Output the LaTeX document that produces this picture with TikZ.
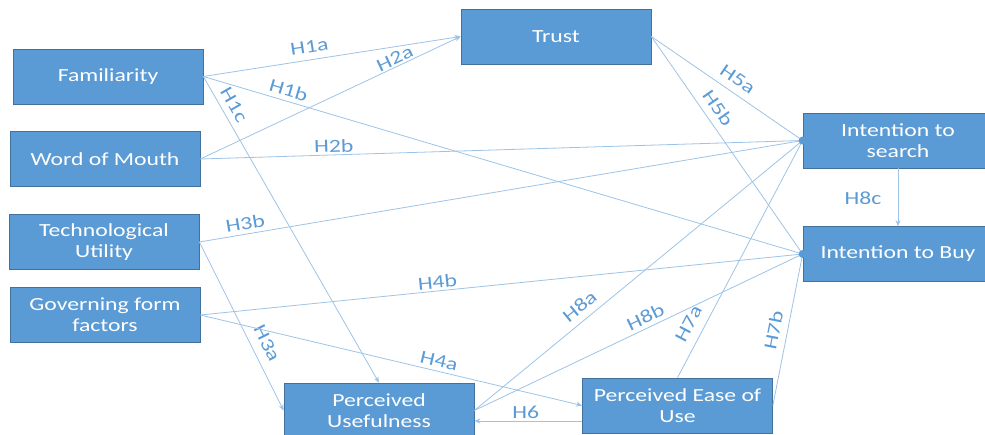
\documentclass[tikz,border=0pt]{standalone}
\usepackage{fontspec}
\setmainfont{Carlito}[FakeStretch=1.28]
\usetikzlibrary{arrows.meta,calc}
\definecolor{boxfill}{HTML}{5B9BD5}
\definecolor{boxline}{HTML}{41719C}
\definecolor{linkc}{HTML}{9DC3E6}
\definecolor{labc}{HTML}{5B9BD5}
\begin{document}
\begin{tikzpicture}[x=1pt,y=-1pt,
  box/.style={draw=boxline, line width=0.7pt, fill=boxfill, text=white,
    minimum width=190pt, minimum height=55pt, inner sep=0pt, align=center,
    font=\fontsize{18.5}{21}\selectfont},
  link/.style={draw=linkc, line width=0.8pt, -{Stealth[length=6pt,width=5pt]}},
  dotlink/.style={draw=linkc, line width=0.8pt},
  lab/.style={text=labc, font=\fontsize{18.5}{21}\selectfont, inner xsep=1pt, above}
]
\useasboundingbox (0,0) rectangle (985,434);
\clip (0,0) rectangle (985,434);

\node[box] (fam)   at (108,76.5)  {Familiarity};
\node[box] (wom)   at (105,159)   {Word of Mouth};
\node[box] (tech)  at (104,242)   {Technological\\Utility};
\node[box] (gff)   at (105,315)   {Governing form\\factors};
\node[box] (trust) at (556,36.5)  {Trust};
\node[box] (srch)  at (898,140.5) {Intention to\\search};
\node[box] (buy)   at (898,254)   {Intention to Buy};
\node[box] (pu)    at (379,410.5) {Perceived\\Usefulness};
\node[box] (peou)  at (677.5,405.5) {Perceived Ease of\\Use};

\draw[link] (fam.east) -- node[lab, sloped, pos=0.42, inner ysep=6.7pt] {H1a} (trust.west);
\draw[link] (wom.east) -- node[lab, sloped, pos=0.76, inner ysep=1.5pt] {H2a} (trust.west);
\draw[dotlink] (fam.east) -- node[lab, sloped, pos=0.137, inner ysep=4.4pt] {H1b} (buy.west);
\draw[link] (fam.east) -- node[lab, sloped, pos=0.113, inner ysep=6pt] {H1c} (pu.north);
\draw[dotlink] (wom.east) -- node[lab, sloped, pos=0.222, inner ysep=2pt] {H2b} (srch.west);
\draw[dotlink] (tech.east) -- node[lab, sloped, pos=0.079, inner ysep=4pt] {H3b} (srch.west);
\draw[link] (tech.east) -- node[lab, sloped, pos=0.641, inner ysep=8.7pt] {H3a} (pu.west);
\draw[dotlink] (gff.east) -- node[lab, sloped, pos=0.395, inner ysep=2pt] {H4b} (buy.west);
\draw[link] (gff.east) -- node[lab, sloped, pos=0.619, inner ysep=4pt] {H4a} (peou.west);
\draw[dotlink] (trust.east) -- node[lab, sloped, pos=0.52, inner ysep=7pt] {H5a} (srch.west);
\draw[dotlink] (trust.east) -- node[lab, sloped, pos=0.366, inner ysep=7pt] {H5b} (buy.west);
\draw[dotlink] (pu.east) -- node[lab, sloped, pos=0.347, inner ysep=7pt] {H8a} (srch.west);
\draw[dotlink] (pu.east) -- node[lab, sloped, pos=0.535, inner ysep=4pt] {H8b} (buy.west);
\draw[dotlink] (peou.north) -- node[lab, sloped, pos=0.198, inner ysep=9pt] {H7a} (srch.west);
\draw[dotlink] (peou.east) -- node[lab, sloped, pos=0.478, inner ysep=7pt] {H7b} (buy.west);
\coordinate (h6s) at ($(peou.west)+(0,15.5)$);
\draw[link] (h6s) -- node[lab, pos=0.523, inner ysep=2pt] {H6} (pu.east |- h6s);
\draw[link] (srch.south) -- node[text=labc, font=\fontsize{18.5}{21}\selectfont, left=13pt, pos=0.51] {H8c} (buy.north);
\fill[boxfill] (srch.west) circle (4);
\fill[boxfill] (buy.west) circle (4);
\end{tikzpicture}
\end{document}
